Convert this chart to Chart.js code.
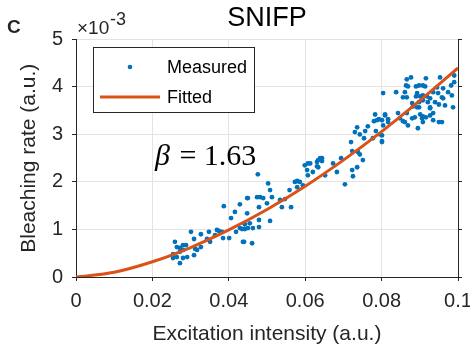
<!DOCTYPE html>
<html>
<head>
<meta charset="utf-8">
<script src="https://cdn.jsdelivr.net/npm/chart.js@4"></script>
<style>
  html, body { margin: 0; padding: 0; background: #fff; }
  #wrap { width: 470px; height: 349px; }
</style>
</head>
<body>
<div id="wrap"><canvas id="snifpChart" width="470" height="349"></canvas></div>
<script>
// y values are in units of 1e-3
const measured = [
  [0.0254,0.40],[0.0254,0.48],[0.0259,0.74],[0.0264,0.63],[0.0264,0.42],[0.0272,0.61],[0.0272,0.53],[0.0272,0.29],
  [0.0280,0.67],[0.0280,0.57],[0.0280,0.40],[0.0288,0.67],[0.0291,0.42],[0.0301,0.95],[0.0309,0.80],[0.0309,0.46],
  [0.0312,0.59],[0.0317,0.57],[0.0327,0.90],[0.0327,0.63],[0.0343,0.80],[0.0348,0.95],[0.0351,0.74],[0.0364,0.88],
  [0.0369,0.99],[0.0374,0.97],[0.0382,0.95],[0.0385,0.82],[0.0387,1.49],[0.0401,0.82],[0.0406,1.24],[0.0416,1.37],
  [0.0419,0.95],[0.0429,1.53],[0.0429,1.03],[0.0437,0.74],[0.0442,1.11],[0.0450,1.66],[0.0450,1.03],
  [0.0476,2.16],[0.0503,1.97],[0.0508,1.83],[0.0474,1.68],[0.0482,1.68],[0.0490,1.66],[0.0513,1.68],[0.0500,1.55],
  [0.0448,1.66],[0.0479,1.47],[0.0448,1.34],[0.0479,1.20],[0.0508,1.18],[0.0455,1.13],[0.0463,1.03],[0.0479,1.05],
  [0.0442,1.01],[0.0435,1.01],[0.0440,0.74],[0.0461,0.71],[0.0534,1.62],[0.0547,1.64],[0.0539,1.47],[0.0563,1.47],
  [0.0573,2.00],[0.0579,1.89],[0.0586,2.00],[0.0594,1.93],[0.0599,2.35],[0.0607,2.39],[0.0613,2.39],[0.0605,2.25],
  [0.0607,2.14],[0.0620,2.21],[0.0631,2.33],[0.0634,2.46],[0.0639,2.50],[0.0644,2.50],[0.0631,2.42],[0.0579,2.02],
  [0.0559,1.83],
  [0.0783,3.42],[0.0809,3.42],[0.0788,3.30],[0.0793,3.32],[0.0780,3.28],[0.0817,3.32],[0.0764,3.17],[0.0736,3.15],
  [0.0730,3.05],[0.0743,3.00],[0.0757,3.07],[0.0754,2.92],[0.0785,3.07],[0.0796,3.00],[0.0777,2.92],[0.0801,2.86],
  [0.0720,2.84],[0.0723,2.65],[0.0738,2.63],[0.0743,2.58],[0.0751,2.46],[0.0736,2.31],[0.0723,2.25],[0.0725,2.12],
  [0.0694,2.50],[0.0673,2.39],[0.0683,2.21],[0.0704,1.95],[0.0639,2.48],[0.0644,2.44],[0.0634,2.31],[0.0652,2.14],
  [0.0866,4.16],[0.0877,4.20],[0.0916,4.18],[0.0953,4.20],[0.0990,4.24],[0.0864,4.03],[0.0869,4.01],[0.0890,4.01],
  [0.0898,4.03],[0.0908,4.03],[0.0914,4.01],[0.0945,3.99],[0.0961,3.97],[0.0982,4.03],[0.0838,3.89],[0.0861,3.89],
  [0.0893,3.87],[0.0935,3.89],[0.0948,3.87],[0.0804,3.87],[0.0974,3.89],[0.0856,3.78],[0.0866,3.78],[0.0890,3.80],
  [0.0901,3.80],[0.0908,3.82],[0.0919,3.80],[0.0927,3.76],[0.0958,3.78],[0.0984,3.82],[0.0961,3.76],[0.0880,3.66],
  [0.0882,3.59],[0.0898,3.68],[0.0908,3.72],[0.0921,3.68],[0.0940,3.68],[0.0950,3.63],[0.0966,3.61],[0.0927,3.57],
  [0.0893,3.57],[0.0898,3.57],[0.0927,3.55],[0.0901,3.42],[0.0908,3.38],[0.0927,3.40],[0.0935,3.45],[0.0866,3.45],
  [0.0809,3.40],[0.0843,3.45],[0.0848,3.34],[0.0856,3.28],[0.0861,3.26],[0.0880,3.34],[0.0887,3.36],[0.0906,3.34],
  [0.0908,3.26],[0.0916,3.36],[0.0935,3.30],[0.0950,3.26],[0.0869,3.19],[0.0895,3.13],[0.0801,3.30],[0.0817,3.26],
  [0.0804,3.19],[0.0801,2.84],[0.0801,2.98],[0.0987,3.57],[0.0958,3.26],[0.0990,4.10]
];

const fitX = [0, 0.01, 0.02, 0.03, 0.04, 0.05, 0.06, 0.07, 0.08, 0.09, 0.1];
const fitY = [0, 0.10, 0.32, 0.62, 0.99, 1.42, 1.91, 2.46, 3.06, 3.71, 4.40];

const xTickLabels = ["0", "0.02", "0.04", "0.06", "0.08", "0.1"];
const yTickLabels = ["0", "1", "2", "3", "4", "5"];

const blue = "#0072BD";
const orange = "#D95319";
const axisColor = "#262626";
const gridColor = "#e3e3e3";
const font = "'Liberation Sans', Arial, sans-serif";

const extras = {
    id: "extras",
    afterDraw(chart) {
        const c = chart.ctx;
        c.save();
        c.fillStyle = axisColor;
        // panel letter
        c.font = "bold 19px " + font;
        c.textAlign = "left";
        c.textBaseline = "alphabetic";
        c.fillText("C", 7, 33);
        // exponent
        c.font = "19px " + font;
        c.fillText("\u00d710", 77, 34);
        c.font = "18px " + font;
        c.fillText("-3", 110, 25);
        // beta annotation
        c.fillStyle = "#000";
        c.font = "italic 30px 'Liberation Serif', serif";
        c.fillText("\u03b2", 155, 165);
        const bw = c.measureText("\u03b2").width;
        c.font = "30px 'Liberation Serif', serif";
        c.fillText(" = 1.63", 155 + bw + 2, 165);
        // legend
        c.fillStyle = "#fff";
        c.fillRect(93, 47, 162, 66);
        c.strokeStyle = axisColor;
        c.lineWidth = 1;
        c.strokeRect(93.5, 47.5, 161, 65);
        c.fillStyle = blue;
        c.beginPath();
        c.arc(130, 67, 2.3, 0, Math.PI * 2);
        c.fill();
        c.strokeStyle = orange;
        c.lineWidth = 3;
        c.beginPath();
        c.moveTo(100, 97);
        c.lineTo(160, 97);
        c.stroke();
        c.fillStyle = "#000";
        c.font = "18px " + font;
        c.textBaseline = "middle";
        c.fillText(chart.data.datasets[0].label, 167, 68);
        c.fillText(chart.data.datasets[1].label, 167, 98);
        c.restore();
    }
};

let ctx = document.getElementById("snifpChart").getContext("2d");
let snifpChart = new Chart(ctx, {
    type: "scatter",
    data: {
        datasets: [{
            label: "Measured",
            data: measured.map(p => ({ x: p[0], y: p[1] })),
            backgroundColor: blue,
            borderWidth: 0,
            pointRadius: 2.4,
            order: 2
        }, {
            label: "Fitted",
            data: fitX.map((x, i) => ({ x: x, y: fitY[i] })),
            showLine: true,
            borderColor: orange,
            borderWidth: 3,
            pointRadius: 0,
            cubicInterpolationMode: "monotone",
            order: 1
        }]
    },
    options: {
        responsive: false,
        maintainAspectRatio: false,
        animation: false,
        layout: { padding: 0 },
        plugins: {
            legend: { display: false },
            tooltip: { enabled: false },
            title: {
                display: true,
                text: "SNIFP",
                fullSize: false,
                color: "#000",
                font: { family: font, size: 27, weight: "normal" },
                padding: { top: 2, bottom: 5 }
            }
        },
        scales: {
            x: {
                type: "linear",
                min: 0,
                max: 0.1,
                afterFit: s => { s.height = 72; s.paddingLeft = 0; s.paddingRight = 0; },
                ticks: {
                    stepSize: 0.02,
                    color: axisColor,
                    font: { family: font, size: 20 },
                    padding: 8,
                    maxRotation: 0,
                    callback: (v, i) => xTickLabels[i]
                },
                grid: { color: gridColor, tickColor: axisColor, tickLength: 4 },
                border: { color: axisColor },
                title: {
                    display: true,
                    text: "Excitation intensity (a.u.)",
                    color: axisColor,
                    font: { family: font, size: 21 },
                    padding: { top: 0, bottom: 2 }
                }
            },
            y: {
                type: "linear",
                position: "left",
                min: 0,
                max: 5,
                afterFit: s => { s.width = 76; s.paddingTop = 0; s.paddingBottom = 0; },
                ticks: {
                    stepSize: 1,
                    color: axisColor,
                    font: { family: font, size: 20 },
                    padding: 9,
                    callback: (v, i) => yTickLabels[i]
                },
                grid: { color: gridColor, tickColor: axisColor, tickLength: 4 },
                border: { color: axisColor },
                title: {
                    display: true,
                    text: "Bleaching rate (a.u.)",
                    color: axisColor,
                    font: { family: font, size: 21 },
                    padding: { top: 17, bottom: 0 }
                }
            },
            y2: {
                type: "linear",
                position: "right",
                min: 0,
                max: 5,
                afterFit: s => { s.width = 12; s.paddingTop = 0; s.paddingBottom = 0; },
                ticks: { stepSize: 1, callback: () => "" },
                grid: { drawOnChartArea: false, tickColor: axisColor, tickLength: 4 },
                border: { color: axisColor }
            }
        }
    },
    plugins: [extras]
});
</script>
</body>
</html>
